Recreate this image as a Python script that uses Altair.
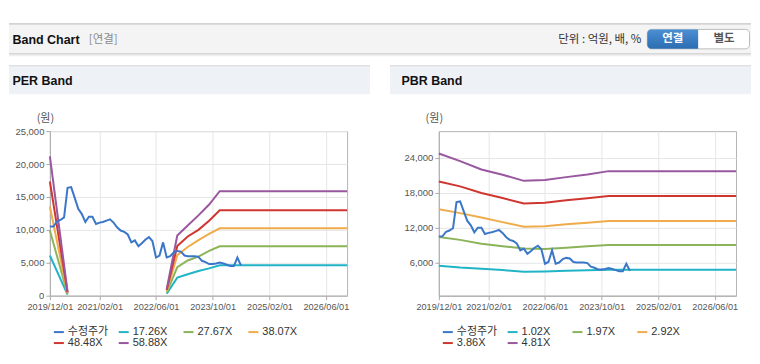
import altair as alt
import pandas as pd

# ---------------- data ----------------
price_dates = pd.date_range("2019-12-01", "2024-06-01", freq="MS").strftime("%Y-%m-%d").tolist()
price = [10500, 10500, 11300, 11500, 11900, 16400, 16500, 14900, 13200, 12400,
         11200, 12000, 12000, 10900, 11100, 11200, 11400, 11600, 11100, 10400,
         9900, 9700, 9300, 8100, 8400, 7500, 8000, 8500, 8900, 8300,
         5800, 6100, 8100, 5800, 6000, 6600, 6800, 6700, 6100, 6000,
         6000, 6000, 5900, 5300, 5100, 4800, 4800, 4900, 5050, 4900,
         4700, 4500, 4500, 5800, 4600]

per_names = ["17.26X", "27.67X", "38.07X", "48.48X", "58.88X"]
per_dates_a = ["2019-12-01", "2020-05-01"]
per_dates_b = ["2022-09-01", "2022-12-01", "2023-03-01", "2023-06-01",
               "2023-09-01", "2023-12-01", "2026-12-01"]
per_a = {
    "17.26X": [6100, 170],
    "27.67X": [9900, 280],
    "38.07X": [13550, 380],
    "48.48X": [17350, 490],
    "58.88X": [21150, 600],
}
per_b = {
    "17.26X": [300, 2750, 3250, 3750, 4150, 4610, 4610],
    "27.67X": [470, 4350, 5350, 5950, 6800, 7500, 7500],
    "38.07X": [650, 6150, 7400, 8450, 9400, 10240, 10240],
    "48.48X": [850, 7550, 9000, 10000, 11400, 12980, 12980],
    "58.88X": [1000, 9150, 10650, 12200, 13850, 15880, 15880],
}

pbr_names = ["1.02X", "1.97X", "2.92X", "3.86X", "4.81X"]
pbr_dates = ["2019-12-01", "2020-06-01", "2020-12-01", "2021-06-01", "2021-12-01",
             "2022-06-01", "2022-12-01", "2023-06-01", "2023-12-01", "2026-12-01"]
pbr = {
    "1.02X": [5450, 5150, 4950, 4700, 4400, 4450, 4580, 4670, 4750, 4750],
    "1.97X": [10400, 9900, 9250, 8800, 8400, 8350, 8550, 8800, 9030, 9030],
    "2.92X": [15150, 14500, 13750, 12950, 12150, 12250, 12580, 12850, 13150, 13150],
    "3.86X": [19950, 19100, 17950, 17100, 16150, 16300, 16700, 17050, 17430, 17430],
    "4.81X": [24750, 23450, 22000, 21100, 20050, 20200, 20690, 21150, 21720, 21720],
}

x_ticks = [(2019, 12), (2021, 2), (2022, 6), (2023, 10), (2025, 2), (2026, 6)]
per_y_ticks = [0, 5000, 10000, 15000, 20000, 25000]
pbr_y_ticks = [6000, 12000, 18000, 24000]
COLORS = ["#3b77c9", "#20b4c6", "#8bb45a", "#f0ab4b", "#cf3630", "#98579f"]

# ---------------- tables ----------------
price_df = pd.DataFrame({"date": price_dates, "value": price, "series": "수정주가"})

rows = []
for n in per_names:
    for d, v in zip(per_dates_a, per_a[n]):
        rows.append({"date": d, "value": v, "series": n, "seg": "a"})
    for d, v in zip(per_dates_b, per_b[n]):
        rows.append({"date": d, "value": v, "series": n, "seg": "b"})
per_df = pd.DataFrame(rows)

rows = []
for n in pbr_names:
    for d, v in zip(pbr_dates, pbr[n]):
        rows.append({"date": d, "value": v, "series": n, "seg": "a"})
pbr_df = pd.DataFrame(rows)

# ---------------- style ----------------
FONT_NUM = "Liberation Sans, sans-serif"
FONT_KR = "Noto Sans CJK KR"
FONT_LEG = "Liberation Sans, Noto Sans CJK KR"
FONT_B = "Liberation Sans, Noto Sans CJK KR"
W, H = 298, 165
RIGHT = 703  # page x 752 relative to the first plot origin

XSCALE = alt.Scale(type="utc", nice=False,
                   domain=[alt.DateTime(year=2019, month=12, date=1, utc=True),
                           alt.DateTime(year=2026, month=12, date=1, utc=True)])
XAXIS = alt.Axis(values=[alt.DateTime(year=y, month=m, date=1, utc=True) for y, m in x_ticks],
                 labelExpr="utcFormat(datum.value, '%Y/%m/%d')", title=None,
                 labelFont=FONT_NUM, labelFontSize=9.2, labelColor="#555555",
                 labelOverlap=False, labelFlush=False, labelPadding=3,
                 tickSize=4, tickColor="#aaaaaa", domainColor="#aaaaaa",
                 gridColor="#e6e6e6")


def y_axis(vals):
    return alt.Axis(values=vals, format=",d", title="(원)", titleAngle=0,
                    titleX=-5, titleY=-13, titleAlign="center", titleBaseline="middle",
                    titleFont=FONT_KR, titleFontSize=11, titleFontWeight="normal",
                    titleColor="#555555",
                    labelFont=FONT_NUM, labelFontSize=9.5, labelColor="#555555",
                    labelPadding=2, tickSize=4, tickColor="#aaaaaa",
                    domainColor="#aaaaaa", gridColor="#e6e6e6")


LEG = alt.Legend(orient="none", legendX=3, legendY=195.5, direction="horizontal",
                 columns=4, symbolType="stroke", symbolSize=100, symbolStrokeWidth=2,
                 labelFont=FONT_LEG, labelFontSize=11, labelColor="#333333",
                 labelOffset=3, rowPadding=0, columnPadding=6, gridAlign="all",
                 padding=0, title=None)

one = pd.DataFrame({"k": [0]})


def rect(x, x2, y, y2, **kw):
    return alt.Chart(one).mark_rect(**kw).encode(
        x=alt.value(x), x2=alt.value(x2), y=alt.value(y), y2=alt.value(y2))


def hline(x, x2, y, color):
    return alt.Chart(one).mark_rule(color=color, strokeWidth=1).encode(
        x=alt.value(x), x2=alt.value(x2), y=alt.value(y))


def label(x, y, text, **kw):
    return alt.Chart(one).mark_text(baseline="middle", **kw).encode(
        x=alt.value(x), y=alt.value(y), text=alt.value(text))


btn_grad = alt.Gradient(gradient="linear", x1=0, x2=0, y1=0, y2=1,
                        stops=[alt.GradientStop(color="#4b8fd3", offset=0),
                               alt.GradientStop(color="#2d6cb0", offset=1)])

decor1 = [
    rect(-41, RIGHT, -122, 219, fill="white", fillOpacity=0),
    rect(-41, RIGHT, -107, -78, fill="#f4f4f4"),
    hline(-41, RIGHT, -107.5, "#b4b4b4"),
    hline(-41, RIGHT, -77.5, "#c6c6c6"),
    hline(-41, RIGHT, -76.5, "#dedede"),
    hline(-41, RIGHT, -75.5, "#efefef"),
    label(-37.5, -91.5, "Band Chart", align="left", font=FONT_B, fontSize=12.5,
          fontWeight="bold", color="#111111"),
    label(39, -91.5, "[연결]", align="left", font=FONT_KR, fontSize=11.5, color="#8a8a8a"),
    label(593, -91.5, "단위 : 억원, 배, %", align="right", font=FONT_KR, fontSize=11.5,
          color="#333333"),
    rect(599, 701.5, -102, -82.5, fill="white", stroke="#bdbdbd", cornerRadius=4),
    rect(599, 650, -102, -82.5, fill=btn_grad, cornerRadiusTopLeft=4,
         cornerRadiusBottomLeft=4),
    label(624.5, -92, "연결", align="center", font=FONT_KR, fontSize=11.5,
          fontWeight="bold", color="white"),
    label(676, -92, "별도", align="center", font=FONT_KR, fontSize=11.5,
          fontWeight="bold", color="#555555"),
    rect(-41, 321, -65, -37, fill="#eef2f7"),
    hline(-41, 321, -65.5, "#d2d2d2"),
    label(-37.5, -50, "PER Band", align="left", font=FONT_B, fontSize=12.5,
          fontWeight="bold", color="#111111"),
]

decor2 = [
    rect(-49, RIGHT - 390, -65, -37, fill="#eef2f7"),
    hline(-49, RIGHT - 390, -65.5, "#d2d2d2"),
    label(-37.5, -50, "PBR Band", align="left", font=FONT_B, fontSize=12.5,
          fontWeight="bold", color="#111111"),
]


def panel(band_df, names, y_scale, y_vals, decor):
    color = alt.Color("series:N",
                      scale=alt.Scale(domain=["수정주가"] + names, range=COLORS),
                      legend=LEG)
    x = alt.X("date:T", scale=XSCALE, axis=XAXIS)
    y = alt.Y("value:Q", scale=y_scale, axis=y_axis(y_vals))
    bands = alt.Chart(band_df).mark_line(strokeWidth=2).encode(
        x=x, y=y, color=color, detail="seg:N")
    prices = alt.Chart(price_df).mark_line(strokeWidth=2).encode(x=x, y=y, color=color)
    return alt.layer(*decor, bands, prices).properties(width=W, height=H)


p1 = panel(per_df, per_names, alt.Scale(domain=[0, 25000], nice=False), per_y_ticks, decor1)
p2 = panel(pbr_df, pbr_names, alt.Scale(domain=[300, 28600], nice=False, zero=False),
           pbr_y_ticks, decor2)

chart = (
    alt.hconcat(p1, p2, spacing=92, bounds="flush")
    .resolve_scale(x="independent", y="independent", color="independent")
    .properties(padding=0, background="white")
    .configure_view(stroke="#b4b4b4", strokeWidth=1)
)

chart.save("out.html", embed_options={"renderer": "svg", "actions": False})
